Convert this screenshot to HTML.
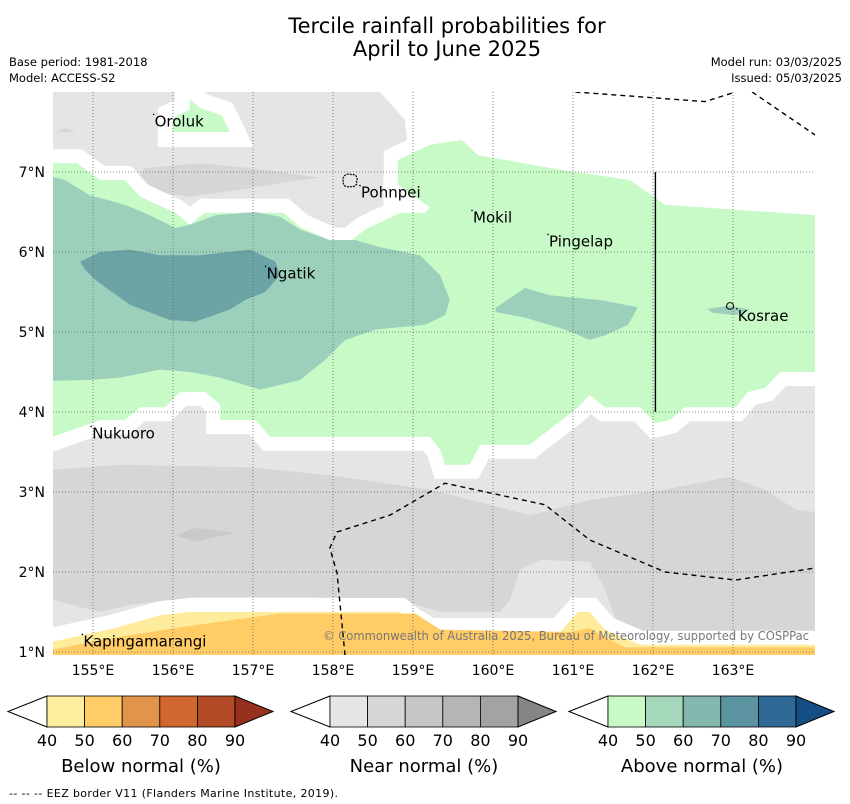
<!DOCTYPE html>
<html><head><meta charset="utf-8"><style>
html,body{margin:0;padding:0;background:#fff;}
svg{display:block;font-family:"DejaVu Sans","Liberation Sans",sans-serif;}
</style></head><body>
<svg id="chart" width="850" height="804" viewBox="0 0 850 804" xmlns="http://www.w3.org/2000/svg">
<text x="447" y="33" font-size="21" text-anchor="middle">Tercile rainfall probabilities for</text>
<text x="447" y="56" font-size="21" text-anchor="middle">April to June 2025</text>
<text x="9" y="66" font-size="11.5">Base period: 1981-2018</text>
<text x="9" y="82" font-size="11.5">Model: ACCESS-S2</text>
<text x="842" y="66" font-size="11.5" text-anchor="end">Model run: 03/03/2025</text>
<text x="842" y="82" font-size="11.5" text-anchor="end">Issued: 05/03/2025</text>
<defs><clipPath id="mapclip"><rect x="53" y="92" width="762" height="563"/></clipPath></defs>
<g id="map" clip-path="url(#mapclip)"></g>
<g id="axes"></g>
<g id="legends"></g>
<text x="9" y="797" font-size="11" textLength="329">--  --  -- EEZ border V11 (Flanders Marine Institute, 2019).</text>
</svg>
<script>
const lonTicks=[155,156,157,158,159,160,161,162,163];
const latTicks=[1,2,3,4,5,6,7];
const legendTicks=[40,50,60,70,80,90];
const legendTitles=["Below normal (%)","Near normal (%)","Above normal (%)"];
const belowColors=["#ffed9e","#ffcc66","#e0954a","#d0672f","#b24a25","#97311d"];
const nearColors=["#e6e6e6","#d6d6d6","#c6c6c6","#b5b5b5","#a3a3a3","#858585"];
const aboveColors=["#c8fac8","#a5d8bb","#83b8ae","#5c93a0","#306896","#154d85"];
const topGrey=[[154.5,8],[158.59,8],[158.9,7.65],[158.94,7.28],[158.63,6.96],[158.63,6.59],[158.84,6.49],[158.34,6.21],[154.5,6.65]];
const topMidGrey=[[155.55,6.9],[155.65,7.05],[156.34,7.11],[156.96,7.05],[157.84,6.93],[157.46,6.88],[156.84,6.78],[156.21,6.69],[155.59,6.78]];
const smallGrey=[[154.54,7.51],[154.66,7.55],[154.78,7.51],[154.66,7.49]];
const orolukGreen=[[156.21,7.91],[156.21,7.78],[156.0,7.68],[156.0,7.5],[156.71,7.5],[156.61,7.71],[156.34,7.8]];
const bottomGrey=[[154.5,4.4],[164.03,4.4],[164.03,0.9],[154.5,0.9]];
const bottomMidGrey=[[154.5,3.28],[155.34,3.34],[156.96,3.31],[157.96,3.21],[159.21,3.03],[160.46,2.71],[161.21,2.9],[162.15,3.03],[162.96,3.19],[163.4,3.03],[163.78,2.78],[164.03,2.75],[164.03,1.25],[161.59,1.25],[161.4,1.78],[161.21,2.13],[160.59,2.15],[160.34,2.03],[160.21,1.65],[160.09,1.5],[159.34,1.5],[158.84,1.65],[157.59,1.69],[156.34,1.69],[155.46,1.59],[155.09,1.5],[154.5,1.65]];
const midGreyBlob=[[156.03,2.46],[156.28,2.55],[156.78,2.49],[156.28,2.38]];
const lightGreen=[[154.5,7.11],[154.8,7.11],[155.09,6.9],[155.4,6.9],[155.59,6.69],[156.03,6.49],[156.21,6.34],[156.4,6.49],[157.38,6.49],[157.59,6.31],[158.0,6.13],[158.21,6.13],[158.4,6.28],[158.84,6.49],[159.15,6.49],[159.21,6.56],[158.81,6.84],[158.81,7.15],[159.21,7.34],[159.61,7.4],[159.81,7.21],[160.84,7.03],[161.71,6.9],[162.15,6.59],[164.03,6.46],[164.03,4.5],[163.59,4.5],[163.4,4.3],[163.19,4.25],[163.03,4.06],[162.4,4.06],[162.21,3.9],[162.03,3.86],[161.84,4.06],[161.4,4.06],[161.21,4.21],[161.03,4.03],[160.78,3.84],[160.46,3.59],[159.84,3.59],[159.71,3.34],[159.4,3.34],[159.34,3.53],[159.21,3.69],[157.21,3.69],[157.03,3.9],[156.59,3.9],[156.59,4.09],[156.4,4.25],[156.09,4.25],[155.9,4.06],[155.59,4.06],[155.4,3.9],[155.09,3.9],[154.5,3.69]];
const medGreen=[[154.5,6.94],[154.65,6.9],[154.96,6.71],[155.4,6.59],[155.71,6.46],[156.03,6.3],[156.21,6.34],[156.53,6.46],[157.03,6.5],[157.34,6.44],[157.59,6.28],[157.96,6.15],[158.28,6.15],[158.59,6.06],[159.09,5.96],[159.34,5.71],[159.46,5.4],[159.4,5.21],[159.15,5.09],[158.53,5.03],[158.15,4.9],[157.9,4.65],[157.59,4.4],[157.09,4.28],[156.59,4.43],[156.21,4.5],[155.84,4.53],[155.34,4.43],[154.96,4.4],[154.5,4.39]];
const tealArea=[[154.84,5.88],[155.09,6.0],[155.46,6.03],[155.84,5.96],[156.34,5.96],[156.96,6.03],[157.28,5.88],[157.34,5.71],[157.15,5.5],[156.9,5.4],[156.71,5.28],[156.28,5.13],[155.96,5.15],[155.46,5.34],[155.03,5.65],[154.9,5.78]];
const rightGreenBlob=[[160.03,5.3],[160.4,5.55],[160.71,5.46],[161.34,5.4],[161.81,5.31],[161.69,5.09],[161.4,4.96],[161.21,4.9],[160.9,5.03],[160.4,5.18],[160.03,5.25]];
const kosraeBlob=[[162.68,5.29],[162.96,5.33],[163.21,5.28],[163.03,5.21],[162.74,5.24]];
const lightYellow=[[154.5,1.13],[155.28,1.3],[155.84,1.46],[156.21,1.5],[158.84,1.5],[158.96,1.4],[159.21,1.25],[160.84,1.25],[161.06,1.5],[161.21,1.5],[161.4,1.28],[161.84,1.09],[164.03,1.09],[164.03,0.9],[154.5,0.9]];
const yellowArea=[[154.5,1.03],[155.09,1.15],[156.09,1.31],[156.96,1.43],[157.34,1.48],[159.03,1.48],[159.34,1.28],[160.96,1.25],[161.21,1.3],[161.4,1.18],[161.65,1.06],[164.03,1.06],[164.03,0.9],[154.5,0.9]];
const eezTopA=[[161.03,8],[162.65,7.88],[163.03,8]];
const eezTopB=[[163.24,8],[164.03,7.46]];
const eezBottom=[[158.15,0.96],[158.05,1.99],[157.96,2.3],[158.05,2.5],[158.71,2.71],[159.4,3.11],[160.65,2.84],[161.21,2.4],[162.15,2.0],[163.03,1.9],[164.03,2.05]];
const eezVertical=[[162.03,7],[162.03,4]];
const placeNames=["Oroluk","Pohnpei","Mokil","Pingelap","Ngatik","Kosrae","Nukuoro","Kapingamarangi"];
const placeLon=[155.77,158.35,159.75,160.7,157.17,163.06,154.99,154.88];
const placeLat=[7.57,6.68,6.37,6.07,5.67,5.14,3.67,1.07];

const NS="http://www.w3.org/2000/svg";
const X=lon=>93+(lon-155)*80;
const Y=lat=>172-(lat-7)*80;
function mk(tag,attrs,parent){const e=document.createElementNS(NS,tag);for(const k in attrs)e.setAttribute(k,attrs[k]);parent.appendChild(e);return e;}
const pts=a=>a.map(p=>X(p[0]).toFixed(1)+","+Y(p[1]).toFixed(1)).join(" ");
const map=document.getElementById("map");
function poly(data,fill,name,stroke){
  const a={points:pts(data),fill:fill};
  if(stroke){a.stroke="#fff";a["stroke-width"]=stroke;a["stroke-linejoin"]="miter";a["paint-order"]="stroke";}
  const e=mk("polygon",a,map);
  
  
  return e;
}
poly(topGrey,"#e5e5e5","near-normal-north",0);
poly(topMidGrey,"#d6d6d6","near-normal-50-north",0);
poly(smallGrey,"#d6d6d6","near-normal-50-west",0);
poly(orolukGreen,"#c8fac8","above-normal-oroluk",30);
poly(bottomGrey,"#e5e5e5","near-normal-south",0);
poly(bottomMidGrey,"#d6d6d6","near-normal-50-south",0);
poly(midGreyBlob,"#c9c9c9","near-normal-60-south",0);
poly(lightGreen,"#c8fac8","above-normal-40",28);
poly(medGreen,"#9dd0bb","above-normal-50-west",0);
poly(tealArea,"#6ca3a5","above-normal-60-west",0);
poly(rightGreenBlob,"#9dd0bb","above-normal-50-east",0);
poly(kosraeBlob,"#9dd0bb","above-normal-50-kosrae",0);
poly(lightYellow,"#ffeb9c","below-normal-40",28);
poly(yellowArea,"#ffcc66","below-normal-50",0);

lonTicks.forEach(l=>{const e=mk("line",{x1:X(l),x2:X(l),y1:92,y2:655,stroke:"#666","stroke-width":0.8,"stroke-dasharray":"1,2"},map);

});
latTicks.forEach(l=>{const e=mk("line",{x1:53,x2:815,y1:Y(l),y2:Y(l),stroke:"#666","stroke-width":0.8,"stroke-dasharray":"1,2"},map);

});

function line(data,name,dash){const e=mk("polyline",{points:pts(data),fill:"none",stroke:"#000","stroke-width":1.4,"stroke-dasharray":dash||"none"},map);

}
line(eezTopA,"eez-border-north","5,4");
line(eezTopB,"eez-border-northeast","5,4");
line(eezBottom,"eez-border-south","5,4");
line(eezVertical,"eez-border-east-solid",null);

const poh=mk("path",{d:`M${X(158.13)},${Y(6.88)} c-2,-5 3,-9 8,-7 c5,-1 7,4 5,7 c2,3 -3,6 -6,5 c-4,1 -8,-1 -7,-5 z`,fill:"none",stroke:"#000","stroke-width":1.2,"stroke-dasharray":"2,1"},map);


const kos=mk("path",{d:`M${X(162.92)},${Y(5.33)} c1,-4 6,-4 7,0 c1,3 -4,5 -7,2 z`,fill:"none",stroke:"#000","stroke-width":1},map);



placeNames.forEach((n,i)=>{
  const d=mk("circle",{cx:X(placeLon[i])-1,cy:Y(placeLat[i])-12,r:0.8,fill:"#000"},map);
  
  
  const t=mk("text",{x:X(placeLon[i]),y:Y(placeLat[i]),"font-size":15,fill:"#000"},map);
  t.textContent=n;
  
  
});
const cp=mk("text",{x:323,y:640,"font-size":12,fill:"#777",textLength:486,lengthAdjust:"spacingAndGlyphs"},map);
cp.textContent="© Commonwealth of Australia 2025, Bureau of Meteorology, supported by COSPPac";



const axes=document.getElementById("axes");
lonTicks.forEach(l=>{const t=mk("text",{x:X(l),y:675,"font-size":14,"text-anchor":"middle"},axes);t.textContent=l+"°E";

});
latTicks.forEach(l=>{const t=mk("text",{x:45,y:Y(l)+5,"font-size":14,"text-anchor":"end"},axes);t.textContent=l+"°N";

});

const lg=document.getElementById("legends");
const legendStarts=[47,330,608];
[belowColors,nearColors,aboveColors].forEach((cols,k)=>{
  const x0=legendStarts[k],w=37.6,top=696,h=31,mid=top+h/2;
  const g=mk("g",{},lg);
  
  
  mk("polygon",{points:`${x0},${top} ${x0-39},${mid} ${x0},${top+h}`,fill:"#fff",stroke:"#000","stroke-width":1},g);
  for(let i=0;i<5;i++){const r=mk("rect",{x:x0+i*w,y:top,width:w,height:h,fill:cols[i],stroke:"#000","stroke-width":0.8},g);
    
    }
  const xe=x0+5*w;
  mk("polygon",{points:`${xe},${top} ${xe+38},${mid} ${xe},${top+h}`,fill:cols[5],stroke:"#000","stroke-width":1},g);
  legendTicks.forEach((v,i)=>{const t=mk("text",{x:x0+i*w,y:746,"font-size":16,"text-anchor":"middle"},g);t.textContent=v;
    
    });
  const tt=mk("text",{x:x0+2.5*w,y:772,"font-size":18,"text-anchor":"middle"},g);
  tt.textContent=legendTitles[k];
  
  
});
</script>
</body></html>
